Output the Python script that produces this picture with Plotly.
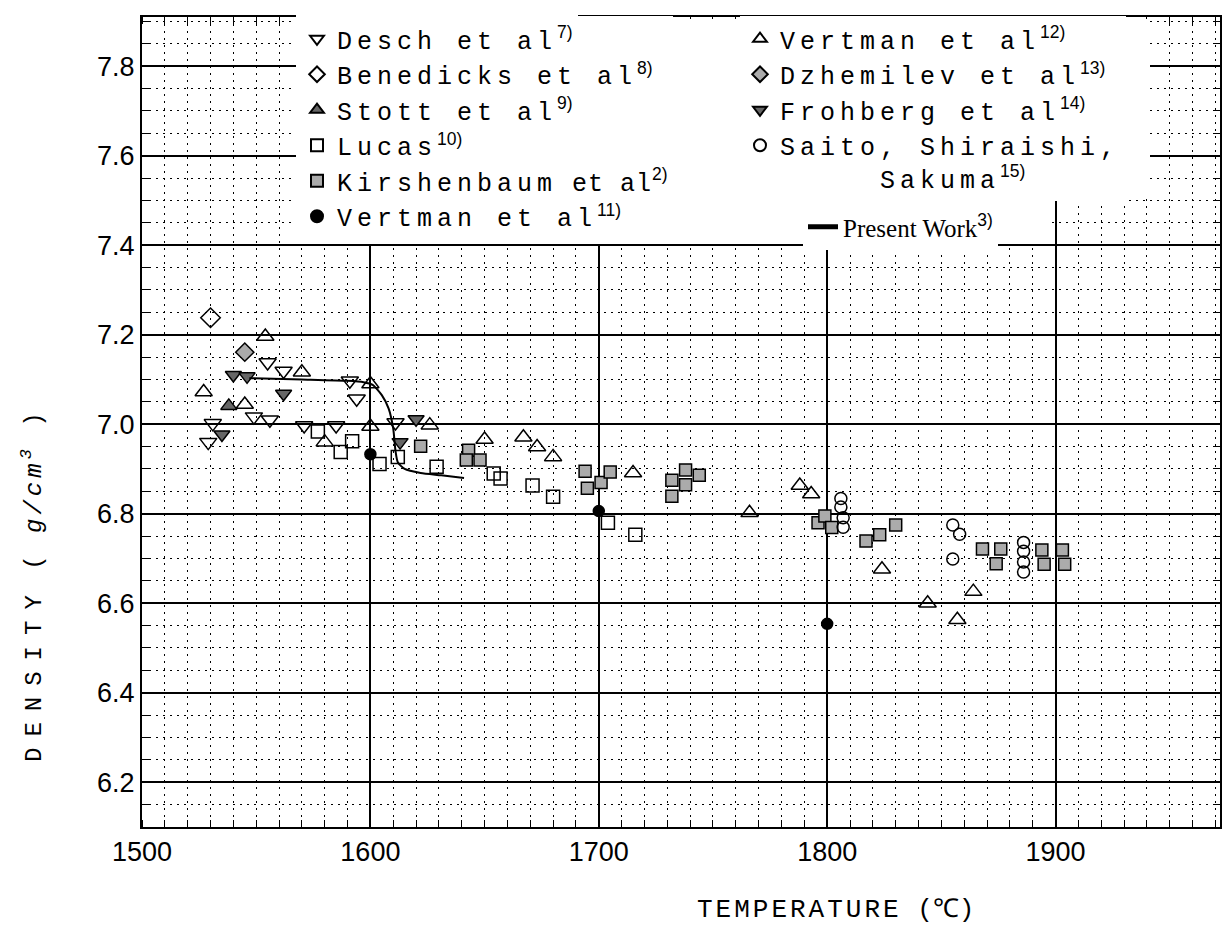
import plotly.graph_objects as go

# ---------------- data ----------------
desch_T = [1555, 1562, 1591, 1594, 1549, 1556, 1531, 1529, 1571, 1585, 1611]
desch_D = [7.138, 7.119, 7.097, 7.057, 7.017, 7.010, 7.002, 6.960, 6.997, 6.997, 7.004]

benedicks_T = [1530]
benedicks_D = [7.238]

stott_T = [1538]
stott_D = [7.041]

lucas_T = [1577, 1592, 1587, 1604, 1612, 1629, 1654, 1657, 1671, 1680, 1704, 1716]
lucas_D = [6.984, 6.962, 6.938, 6.911, 6.927, 6.905, 6.890, 6.879, 6.863, 6.838, 6.780, 6.753]

kirsh_T = [1622, 1643, 1642, 1648, 1694, 1695, 1701, 1705, 1732, 1738, 1738, 1744, 1732,
           1796, 1799, 1802, 1817, 1823, 1830, 1868, 1876, 1874, 1894, 1903, 1895, 1904]
kirsh_D = [6.951, 6.942, 6.920, 6.920, 6.895, 6.857, 6.870, 6.893, 6.875, 6.898, 6.865, 6.886, 6.839,
           6.780, 6.795, 6.769, 6.739, 6.753, 6.775, 6.721, 6.721, 6.688, 6.719, 6.719, 6.687, 6.687]

vert11_T = [1600, 1700, 1800]
vert11_D = [6.933, 6.806, 6.554]

vert12_T = [1554, 1570, 1600, 1527, 1545, 1580, 1600, 1626, 1650, 1667, 1673, 1680, 1715,
            1766, 1788, 1793, 1824, 1844, 1857, 1864]
vert12_D = [7.196, 7.116, 7.090, 7.072, 7.044, 6.960, 6.995, 6.998, 6.966, 6.971, 6.949, 6.927, 6.891,
            6.802, 6.863, 6.844, 6.676, 6.600, 6.563, 6.626]

dzhem_T = [1545]
dzhem_D = [7.161]

frohberg_T = [1540, 1546, 1562, 1535, 1620, 1613]
frohberg_D = [7.110, 7.107, 7.068, 6.977, 7.011, 6.960]

saito_T = [1806, 1806, 1807, 1807, 1855, 1858, 1855, 1886, 1886, 1886, 1886]
saito_D = [6.834, 6.815, 6.791, 6.770, 6.775, 6.754, 6.699, 6.736, 6.716, 6.692, 6.670]

present_T = [1547, 1570, 1590, 1597, 1601, 1605, 1608, 1610, 1611, 1612, 1615, 1622, 1631, 1641]
present_D = [7.103, 7.100, 7.097, 7.094, 7.088, 7.065, 7.035, 6.990, 6.940, 6.915, 6.900, 6.891, 6.886, 6.880]

x_ticks = [1500, 1600, 1700, 1800, 1900]
y_ticks = [6.2, 6.4, 6.6, 6.8, 7.0, 7.2, 7.4, 7.6, 7.8]

# ---------------- helpers ----------------
W, H = 1224, 934
L, R, T, B = 142, 1220, 17, 827


def px_x(p):
    return (p - L) / (R - L)


def px_y(p):
    return (B - p) / (B - T)


def tw(s, ls=5):
    return f"<span style='letter-spacing:{ls}px'>{s}</span>"


def sup(s):
    return f"<sup><span style='font-family:Liberation Sans;letter-spacing:0px'>{s}</span></sup>"


LIGHT = "#ababab"
DARK = "#666666"

fig = go.Figure()


def add(x, y, name, symbol, size, fill, legend, line_w=1.5):
    fig.add_trace(go.Scatter(
        x=x, y=y, mode="markers", name=name, legend=legend,
        marker=dict(symbol=symbol, size=size, color=fill,
                    line=dict(color="black", width=line_w)),
    ))


add(desch_T, desch_D, tw("Desch et al") + sup("7)"), "triangle-down-open", 15, "black", "legend")
add(benedicks_T, benedicks_D, tw("Benedicks et al") + sup("8)"), "diamond-open", 15, "black", "legend")
add(stott_T, stott_D, tw("Stott et al") + sup("9)"), "triangle-up", 14, DARK, "legend")
add(lucas_T, lucas_D, tw("Lucas") + sup("10)"), "square-open", 13, "black", "legend")
add(kirsh_T, kirsh_D, tw("Kirshenbaum") + " " + tw("et al", 1) + sup("2)"), "square", 12, LIGHT, "legend")
add(vert11_T, vert11_D, tw("Vertman et al") + sup("11)"), "circle", 11, "black", "legend")

add(vert12_T, vert12_D, tw("Vertman et al") + sup("12)"), "triangle-up-open", 15, "black", "legend2")
add(dzhem_T, dzhem_D, tw("Dzhemilev et al") + sup("13)"), "diamond", 14, LIGHT, "legend2")
add(frohberg_T, frohberg_D, tw("Frohberg et al") + sup("14)"), "triangle-down", 14, DARK, "legend2")
add(saito_T, saito_D, tw("Saito, Shiraishi,") + "<br>" + tw("\u00a0\u00a0\u00a0\u00a0\u00a0Sakuma") + sup("15)"),
    "circle-open", 12, "black", "legend2")

fig.add_trace(go.Scatter(
    x=present_T, y=present_D, mode="lines", name="Present Work" + sup("3)"), legend="legend3",
    line=dict(color="black", width=2, shape="spline", smoothing=0.6),
))

grid_minor_dash = "2px,5px"
axis_common = dict(
    showgrid=True, gridcolor="black", gridwidth=1.5,
    showline=True, linecolor="black", linewidth=2, mirror="allticks",
    zeroline=False, ticks="", automargin=False,
    tickfont=dict(family="Liberation Sans, Arial, sans-serif", size=27, color="black"),
)

fig.update_xaxes(
    range=[1500, 1972], tickvals=x_ticks, tickangle=0,
    minor=dict(dtick=10, tick0=1500, showgrid=True, gridcolor="black", gridwidth=1,
               griddash=grid_minor_dash, ticks="inside", ticklen=7, tickcolor="black", tickwidth=1),
    **axis_common,
)
fig.update_yaxes(
    range=[6.1, 7.91], tickvals=y_ticks, tickformat=".1f",
    minor=dict(dtick=0.05, tick0=6.2, showgrid=True, gridcolor="black", gridwidth=1,
               griddash=grid_minor_dash, ticks="inside", ticklen=7, tickcolor="black", tickwidth=1),
    **axis_common,
)

# white area behind the pasted-in legend
shapes = [
    dict(type="rect", xref="paper", yref="paper", layer="above",
         x0=px_x(296), x1=px_x(1052), y0=px_y(244), y1=px_y(19),
         fillcolor="white", line=dict(width=0)),
    dict(type="rect", xref="paper", yref="paper", layer="above",
         x0=px_x(1052), x1=px_x(1150), y0=px_y(194), y1=px_y(19),
         fillcolor="white", line=dict(width=0)),
    dict(type="rect", xref="paper", yref="paper", layer="above",
         x0=px_x(296), x1=px_x(578), y0=px_y(22), y1=px_y(12),
         fillcolor="white", line=dict(width=0)),
]

leg_font = dict(family="Liberation Mono, Courier New, monospace", size=25, color="black")
legend_common = dict(bgcolor="white", borderwidth=0, font=leg_font, xref="container", yref="container",
                     xanchor="left", yanchor="top", traceorder="normal", tracegroupgap=0,
                     itemsizing="constant", valign="top")

fig.update_layout(
    width=W, height=H, autosize=False,
    margin=dict(l=L, r=W - R, t=T, b=H - B, pad=0, autoexpand=False),
    paper_bgcolor="white", plot_bgcolor="white",
    showlegend=True,
    legend=dict(x=297 / W, y=1 - 16 / H, **legend_common),
    legend2=dict(x=740 / W, y=1 - 16 / H, **legend_common),
    legend3=dict(x=803 / W, y=1 - 204 / H,
                 **{**legend_common, "font": dict(family="Liberation Serif, Times New Roman, serif",
                                                  size=25, color="black")}),
    shapes=shapes,
    annotations=[
        dict(text=tw("DENSITY", 11) + " " + tw("( <i>g/cm<sup>3</sup></i> )", 4), textangle=-90,
             xref="paper", yref="paper", x=px_x(32), y=px_y(585), showarrow=False,
             xanchor="center", yanchor="middle",
             font=dict(family="Liberation Mono, Courier New, monospace", size=24, color="black")),
        dict(text=tw("TEMPERATURE", 3) + " (℃)",
             xref="paper", yref="paper", x=px_x(835), y=px_y(910), showarrow=False,
             xanchor="center", yanchor="middle",
             font=dict(family="Liberation Mono, Courier New, monospace", size=26, color="black")),
    ],
)

fig.write_html("out.html", config={"displayModeBar": False},
               post_script="document.body.style.margin='0';document.body.style.overflow='hidden';")
